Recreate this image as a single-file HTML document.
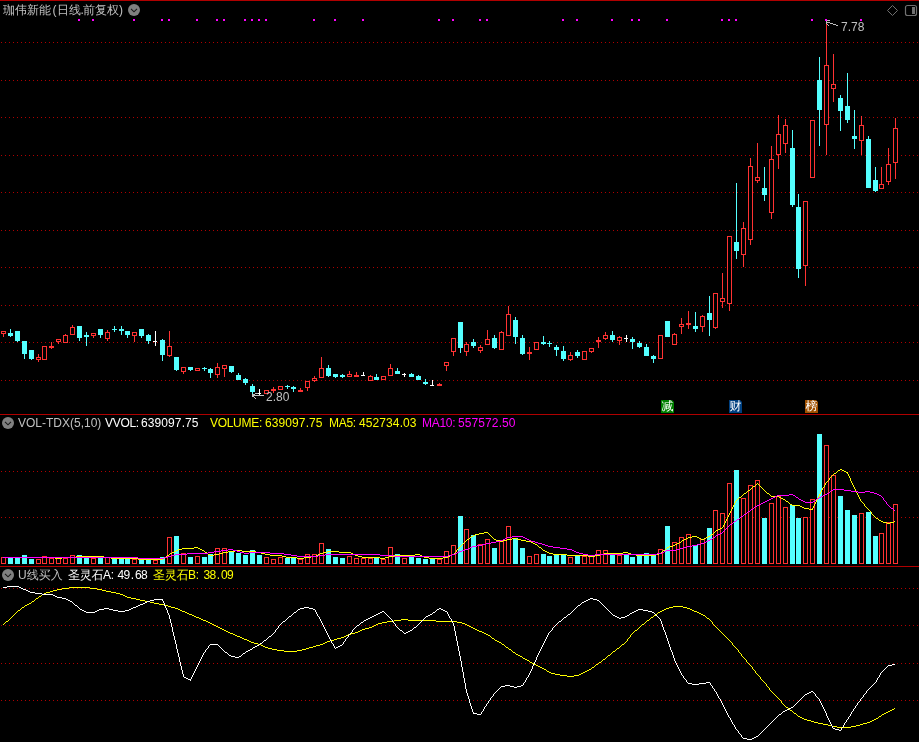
<!DOCTYPE html>
<html lang="zh-CN">
<head>
<meta charset="utf-8">
<title>珈伟新能 (日线.前复权)</title>
<style>
html,body{margin:0;padding:0;background:#000;}
body{width:919px;height:742px;overflow:hidden;position:relative;font-family:"Liberation Sans","WenQuanYi Zen Hei","Noto Sans CJK SC",sans-serif;font-size:12px;line-height:14px;color:#c0c0c0;}
#chart{position:absolute;left:0;top:0;}
.t{position:absolute;white-space:pre;height:14px;}
.w{color:#fff} .y{color:#ffff00} .m{color:#ff00ff} .g{color:#c0c0c0}
.tag{position:absolute;top:400px;width:13px;height:13px;color:#fff;font-size:12px;line-height:13px;text-align:center;overflow:hidden;clip-path:polygon(0 0,11px 0,13px 2px,13px 13px,0 13px);}
.ic{position:absolute;}
.s{position:absolute;top:0;white-space:pre;}
.lb{letter-spacing:-0.3px} .nm{letter-spacing:0.1px} .n2{letter-spacing:-0.67px} .n2 i{font-style:normal;letter-spacing:0.8px;padding-left:1.2px;}
</style>
</head>
<body>
<svg id="chart" width="919" height="742" viewBox="0 0 919 742" shape-rendering="crispEdges">
<rect x="0" y="0" width="919" height="1" fill="#b00000"/>
<rect x="0" y="414" width="919" height="1" fill="#b00000"/>
<rect x="0" y="566" width="919" height="1" fill="#b00000"/>
<line x1="1" x2="919" y1="42.5" y2="42.5" stroke="#b00000" stroke-dasharray="1 3"/>
<line x1="1" x2="919" y1="80.5" y2="80.5" stroke="#b00000" stroke-dasharray="1 3"/>
<line x1="1" x2="919" y1="117.5" y2="117.5" stroke="#b00000" stroke-dasharray="1 3"/>
<line x1="1" x2="919" y1="155.5" y2="155.5" stroke="#b00000" stroke-dasharray="1 3"/>
<line x1="1" x2="919" y1="192.5" y2="192.5" stroke="#b00000" stroke-dasharray="1 3"/>
<line x1="1" x2="919" y1="230.5" y2="230.5" stroke="#b00000" stroke-dasharray="1 3"/>
<line x1="1" x2="919" y1="267.5" y2="267.5" stroke="#b00000" stroke-dasharray="1 3"/>
<line x1="1" x2="919" y1="305.5" y2="305.5" stroke="#b00000" stroke-dasharray="1 3"/>
<line x1="1" x2="919" y1="342.5" y2="342.5" stroke="#b00000" stroke-dasharray="1 3"/>
<line x1="1" x2="919" y1="380.5" y2="380.5" stroke="#b00000" stroke-dasharray="1 3"/>
<line x1="1" x2="919" y1="471.5" y2="471.5" stroke="#b00000" stroke-dasharray="1 3"/>
<line x1="1" x2="919" y1="517.5" y2="517.5" stroke="#b00000" stroke-dasharray="1 3"/>
<line x1="1" x2="919" y1="588.5" y2="588.5" stroke="#b00000" stroke-dasharray="1 3"/>
<line x1="1" x2="919" y1="625.5" y2="625.5" stroke="#b00000" stroke-dasharray="1 3"/>
<line x1="1" x2="919" y1="663.5" y2="663.5" stroke="#b00000" stroke-dasharray="1 3"/>
<line x1="1" x2="919" y1="700.5" y2="700.5" stroke="#b00000" stroke-dasharray="1 3"/>
<rect x="78" y="19" width="2" height="2" fill="#ff00ff"/>
<rect x="92" y="19" width="2" height="2" fill="#ff00ff"/>
<rect x="133" y="19" width="2" height="2" fill="#ff00ff"/>
<rect x="161" y="19" width="2" height="2" fill="#ff00ff"/>
<rect x="168" y="19" width="2" height="2" fill="#ff00ff"/>
<rect x="196" y="19" width="2" height="2" fill="#ff00ff"/>
<rect x="216" y="19" width="2" height="2" fill="#ff00ff"/>
<rect x="223" y="19" width="2" height="2" fill="#ff00ff"/>
<rect x="244" y="19" width="2" height="2" fill="#ff00ff"/>
<rect x="251" y="19" width="2" height="2" fill="#ff00ff"/>
<rect x="258" y="19" width="2" height="2" fill="#ff00ff"/>
<rect x="265" y="19" width="2" height="2" fill="#ff00ff"/>
<rect x="313" y="19" width="2" height="2" fill="#ff00ff"/>
<rect x="334" y="19" width="2" height="2" fill="#ff00ff"/>
<rect x="362" y="19" width="2" height="2" fill="#ff00ff"/>
<rect x="438" y="19" width="2" height="2" fill="#ff00ff"/>
<rect x="452" y="19" width="2" height="2" fill="#ff00ff"/>
<rect x="479" y="19" width="2" height="2" fill="#ff00ff"/>
<rect x="486" y="19" width="2" height="2" fill="#ff00ff"/>
<rect x="562" y="19" width="2" height="2" fill="#ff00ff"/>
<rect x="576" y="19" width="2" height="2" fill="#ff00ff"/>
<rect x="611" y="19" width="2" height="2" fill="#ff00ff"/>
<rect x="631" y="19" width="2" height="2" fill="#ff00ff"/>
<rect x="638" y="19" width="2" height="2" fill="#ff00ff"/>
<rect x="666" y="19" width="2" height="2" fill="#ff00ff"/>
<rect x="721" y="19" width="2" height="2" fill="#ff00ff"/>
<rect x="728" y="19" width="2" height="2" fill="#ff00ff"/>
<rect x="735" y="19" width="2" height="2" fill="#ff00ff"/>
<rect x="811" y="19" width="2" height="2" fill="#ff00ff"/>
<rect x="825" y="19" width="2" height="2" fill="#ff00ff"/>
<rect x="860" y="19" width="2" height="2" fill="#ff00ff"/>
<rect x="3" y="334" width="1" height="3" fill="#ff3232"/>
<rect x="1.5" y="331.5" width="4" height="2" fill="#000" stroke="#ff3232"/>
<rect x="10" y="329" width="1" height="8" fill="#54ffff"/>
<rect x="8" y="333" width="5" height="3" fill="#54ffff"/>
<rect x="17" y="331" width="1" height="11" fill="#54ffff"/>
<rect x="15" y="331" width="5" height="10" fill="#54ffff"/>
<rect x="24" y="341" width="1" height="18" fill="#54ffff"/>
<rect x="22" y="341" width="5" height="13" fill="#54ffff"/>
<rect x="31" y="350" width="1" height="10" fill="#54ffff"/>
<rect x="29" y="350" width="5" height="9" fill="#54ffff"/>
<rect x="38" y="354" width="1" height="3" fill="#ff3232"/>
<rect x="38" y="360" width="1" height="2" fill="#ff3232"/>
<rect x="36.5" y="357.5" width="4" height="2" fill="#000" stroke="#ff3232"/>
<rect x="42.5" y="346.5" width="4" height="13" fill="#000" stroke="#ff3232"/>
<rect x="51" y="342" width="1" height="7" fill="#ff3232"/>
<rect x="49" y="346" width="5" height="2" fill="#ff3232"/>
<rect x="58" y="342" width="1" height="2" fill="#ff3232"/>
<rect x="56.5" y="339.5" width="4" height="2" fill="#000" stroke="#ff3232"/>
<rect x="65" y="334" width="1" height="1" fill="#ff3232"/>
<rect x="63.5" y="335.5" width="4" height="7" fill="#000" stroke="#ff3232"/>
<rect x="72" y="325" width="1" height="2" fill="#ff3232"/>
<rect x="70.5" y="327.5" width="4" height="7" fill="#000" stroke="#ff3232"/>
<rect x="79" y="326" width="1" height="15" fill="#54ffff"/>
<rect x="77" y="326" width="5" height="12" fill="#54ffff"/>
<rect x="86" y="332" width="1" height="14" fill="#54ffff"/>
<rect x="84" y="335" width="5" height="2" fill="#54ffff"/>
<rect x="93" y="336" width="1" height="2" fill="#ff3232"/>
<rect x="91.5" y="333.5" width="4" height="2" fill="#000" stroke="#ff3232"/>
<rect x="100" y="329" width="1" height="9" fill="#54ffff"/>
<rect x="98" y="329" width="5" height="6" fill="#54ffff"/>
<rect x="107" y="330" width="1" height="2" fill="#ff3232"/>
<rect x="107" y="339" width="1" height="2" fill="#ff3232"/>
<rect x="105.5" y="332.5" width="4" height="6" fill="#000" stroke="#ff3232"/>
<rect x="114" y="326" width="1" height="6" fill="#54ffff"/>
<rect x="112" y="329" width="5" height="1" fill="#54ffff"/>
<rect x="121" y="326" width="1" height="9" fill="#54ffff"/>
<rect x="119" y="329" width="5" height="2" fill="#54ffff"/>
<rect x="127" y="331" width="1" height="7" fill="#54ffff"/>
<rect x="125" y="331" width="5" height="4" fill="#54ffff"/>
<rect x="134" y="336" width="1" height="6" fill="#ff3232"/>
<rect x="132.5" y="332.5" width="4" height="3" fill="#000" stroke="#ff3232"/>
<rect x="141" y="329" width="1" height="9" fill="#54ffff"/>
<rect x="139" y="329" width="5" height="7" fill="#54ffff"/>
<rect x="148" y="334" width="1" height="10" fill="#54ffff"/>
<rect x="146" y="335" width="5" height="6" fill="#54ffff"/>
<rect x="155" y="331" width="1" height="15" fill="#fff"/>
<rect x="153" y="341" width="4" height="1" fill="#fff"/>
<rect x="162" y="339" width="1" height="22" fill="#54ffff"/>
<rect x="160" y="340" width="5" height="15" fill="#54ffff"/>
<rect x="169" y="331" width="1" height="15" fill="#ff3232"/>
<rect x="169" y="356" width="1" height="1" fill="#ff3232"/>
<rect x="167.5" y="346.5" width="4" height="9" fill="#000" stroke="#ff3232"/>
<rect x="176" y="357" width="1" height="14" fill="#54ffff"/>
<rect x="174" y="357" width="5" height="13" fill="#54ffff"/>
<rect x="183" y="372" width="1" height="2" fill="#ff3232"/>
<rect x="181.5" y="367.5" width="4" height="4" fill="#000" stroke="#ff3232"/>
<rect x="190" y="367" width="1" height="4" fill="#54ffff"/>
<rect x="188" y="367" width="5" height="3" fill="#54ffff"/>
<rect x="195.5" y="368.5" width="4" height="2" fill="#000" stroke="#ff3232"/>
<rect x="204" y="367" width="1" height="4" fill="#54ffff"/>
<rect x="202" y="368" width="5" height="1" fill="#54ffff"/>
<rect x="210" y="368" width="1" height="10" fill="#54ffff"/>
<rect x="208" y="369" width="5" height="4" fill="#54ffff"/>
<rect x="217" y="363" width="1" height="4" fill="#ff3232"/>
<rect x="217" y="375" width="1" height="3" fill="#ff3232"/>
<rect x="215.5" y="367.5" width="4" height="7" fill="#000" stroke="#ff3232"/>
<rect x="224" y="369" width="1" height="8" fill="#ff3232"/>
<rect x="222.5" y="365.5" width="4" height="3" fill="#000" stroke="#ff3232"/>
<rect x="231" y="366" width="1" height="7" fill="#54ffff"/>
<rect x="229" y="366" width="5" height="6" fill="#54ffff"/>
<rect x="238" y="373" width="1" height="7" fill="#54ffff"/>
<rect x="236" y="375" width="5" height="5" fill="#54ffff"/>
<rect x="245" y="378" width="1" height="7" fill="#54ffff"/>
<rect x="243" y="379" width="5" height="4" fill="#54ffff"/>
<rect x="252" y="384" width="1" height="10" fill="#54ffff"/>
<rect x="250" y="386" width="5" height="6" fill="#54ffff"/>
<rect x="259" y="389" width="1" height="6" fill="#fff"/>
<rect x="257" y="393" width="4" height="1" fill="#fff"/>
<rect x="264.5" y="390.5" width="4" height="3" fill="#000" stroke="#ff3232"/>
<rect x="273" y="387" width="1" height="6" fill="#ff3232"/>
<rect x="271" y="389" width="5" height="2" fill="#ff3232"/>
<rect x="278.5" y="386.5" width="4" height="3" fill="#000" stroke="#ff3232"/>
<rect x="287" y="385" width="1" height="4" fill="#54ffff"/>
<rect x="285" y="386" width="5" height="1" fill="#54ffff"/>
<rect x="293" y="386" width="1" height="6" fill="#54ffff"/>
<rect x="291" y="387" width="5" height="2" fill="#54ffff"/>
<rect x="300" y="388" width="1" height="4" fill="#ff3232"/>
<rect x="298" y="390" width="5" height="2" fill="#ff3232"/>
<rect x="307" y="388" width="1" height="3" fill="#ff3232"/>
<rect x="305.5" y="381.5" width="4" height="6" fill="#000" stroke="#ff3232"/>
<rect x="314" y="376" width="1" height="2" fill="#ff3232"/>
<rect x="314" y="381" width="1" height="1" fill="#ff3232"/>
<rect x="312.5" y="378.5" width="4" height="2" fill="#000" stroke="#ff3232"/>
<rect x="321" y="357" width="1" height="11" fill="#ff3232"/>
<rect x="319.5" y="368.5" width="4" height="9" fill="#000" stroke="#ff3232"/>
<rect x="328" y="365" width="1" height="12" fill="#54ffff"/>
<rect x="326" y="368" width="5" height="8" fill="#54ffff"/>
<rect x="335" y="374" width="1" height="4" fill="#54ffff"/>
<rect x="333" y="374" width="5" height="3" fill="#54ffff"/>
<rect x="342" y="374" width="1" height="4" fill="#54ffff"/>
<rect x="340" y="375" width="5" height="2" fill="#54ffff"/>
<rect x="349" y="371" width="1" height="3" fill="#ff3232"/>
<rect x="347.5" y="374.5" width="4" height="2" fill="#000" stroke="#ff3232"/>
<rect x="356" y="372" width="1" height="5" fill="#ff3232"/>
<rect x="354" y="375" width="5" height="2" fill="#ff3232"/>
<rect x="363" y="372" width="1" height="4" fill="#fff"/>
<rect x="361" y="375" width="4" height="1" fill="#fff"/>
<rect x="370" y="375" width="1" height="1" fill="#ff3232"/>
<rect x="368.5" y="376.5" width="4" height="4" fill="#000" stroke="#ff3232"/>
<rect x="376" y="374" width="1" height="6" fill="#54ffff"/>
<rect x="374" y="377" width="5" height="3" fill="#54ffff"/>
<rect x="381.5" y="376.5" width="4" height="3" fill="#000" stroke="#ff3232"/>
<rect x="390" y="364" width="1" height="4" fill="#ff3232"/>
<rect x="388.5" y="368.5" width="4" height="7" fill="#000" stroke="#ff3232"/>
<rect x="397" y="368" width="1" height="6" fill="#54ffff"/>
<rect x="395" y="371" width="5" height="3" fill="#54ffff"/>
<rect x="404" y="373" width="1" height="4" fill="#fff"/>
<rect x="402" y="374" width="4" height="1" fill="#fff"/>
<rect x="411" y="373" width="1" height="4" fill="#54ffff"/>
<rect x="409" y="374" width="5" height="3" fill="#54ffff"/>
<rect x="418" y="375" width="1" height="5" fill="#54ffff"/>
<rect x="416" y="376" width="5" height="4" fill="#54ffff"/>
<rect x="425" y="379" width="1" height="6" fill="#54ffff"/>
<rect x="423" y="382" width="5" height="2" fill="#54ffff"/>
<rect x="432" y="380" width="1" height="6" fill="#fff"/>
<rect x="430" y="385" width="4" height="1" fill="#fff"/>
<rect x="439" y="383" width="1" height="3" fill="#ff3232"/>
<rect x="437" y="384" width="5" height="2" fill="#ff3232"/>
<rect x="446" y="366" width="1" height="5" fill="#ff3232"/>
<rect x="444.5" y="362.5" width="4" height="3" fill="#000" stroke="#ff3232"/>
<rect x="453" y="352" width="1" height="4" fill="#ff3232"/>
<rect x="451.5" y="338.5" width="4" height="13" fill="#000" stroke="#ff3232"/>
<rect x="460" y="322" width="1" height="31" fill="#54ffff"/>
<rect x="458" y="322" width="5" height="26" fill="#54ffff"/>
<rect x="466" y="342" width="1" height="2" fill="#ff3232"/>
<rect x="466" y="352" width="1" height="4" fill="#ff3232"/>
<rect x="464.5" y="344.5" width="4" height="7" fill="#000" stroke="#ff3232"/>
<rect x="473" y="339" width="1" height="9" fill="#54ffff"/>
<rect x="471" y="342" width="5" height="4" fill="#54ffff"/>
<rect x="480" y="345" width="1" height="2" fill="#ff3232"/>
<rect x="480" y="351" width="1" height="2" fill="#ff3232"/>
<rect x="478.5" y="347.5" width="4" height="3" fill="#000" stroke="#ff3232"/>
<rect x="487" y="330" width="1" height="9" fill="#ff3232"/>
<rect x="485.5" y="339.5" width="4" height="5" fill="#000" stroke="#ff3232"/>
<rect x="494" y="335" width="1" height="14" fill="#54ffff"/>
<rect x="492" y="338" width="5" height="10" fill="#54ffff"/>
<rect x="501" y="331" width="1" height="1" fill="#ff3232"/>
<rect x="499.5" y="332.5" width="4" height="17" fill="#000" stroke="#ff3232"/>
<rect x="508" y="306" width="1" height="8" fill="#ff3232"/>
<rect x="506.5" y="314.5" width="4" height="21" fill="#000" stroke="#ff3232"/>
<rect x="515" y="317" width="1" height="27" fill="#54ffff"/>
<rect x="513" y="320" width="5" height="17" fill="#54ffff"/>
<rect x="522" y="335" width="1" height="20" fill="#54ffff"/>
<rect x="520" y="338" width="5" height="16" fill="#54ffff"/>
<rect x="529" y="347" width="1" height="13" fill="#ff3232"/>
<rect x="527" y="352" width="5" height="2" fill="#ff3232"/>
<rect x="534.5" y="342.5" width="4" height="7" fill="#000" stroke="#ff3232"/>
<rect x="543" y="336" width="1" height="9" fill="#54ffff"/>
<rect x="541" y="342" width="5" height="2" fill="#54ffff"/>
<rect x="549" y="341" width="1" height="6" fill="#54ffff"/>
<rect x="547" y="343" width="5" height="1" fill="#54ffff"/>
<rect x="556" y="345" width="1" height="11" fill="#54ffff"/>
<rect x="554" y="347" width="5" height="3" fill="#54ffff"/>
<rect x="563" y="346" width="1" height="15" fill="#54ffff"/>
<rect x="561" y="351" width="5" height="8" fill="#54ffff"/>
<rect x="570" y="352" width="1" height="3" fill="#ff3232"/>
<rect x="570" y="360" width="1" height="1" fill="#ff3232"/>
<rect x="568.5" y="355.5" width="4" height="4" fill="#000" stroke="#ff3232"/>
<rect x="577" y="350" width="1" height="8" fill="#54ffff"/>
<rect x="575" y="352" width="5" height="4" fill="#54ffff"/>
<rect x="582.5" y="351.5" width="4" height="8" fill="#000" stroke="#ff3232"/>
<rect x="591" y="352" width="1" height="1" fill="#ff3232"/>
<rect x="589.5" y="348.5" width="4" height="3" fill="#000" stroke="#ff3232"/>
<rect x="598" y="337" width="1" height="11" fill="#ff3232"/>
<rect x="596" y="340" width="5" height="2" fill="#ff3232"/>
<rect x="605" y="332" width="1" height="3" fill="#ff3232"/>
<rect x="605" y="339" width="1" height="1" fill="#ff3232"/>
<rect x="603.5" y="335.5" width="4" height="3" fill="#000" stroke="#ff3232"/>
<rect x="612" y="331" width="1" height="11" fill="#54ffff"/>
<rect x="610" y="335" width="5" height="5" fill="#54ffff"/>
<rect x="619" y="336" width="1" height="1" fill="#ff3232"/>
<rect x="619" y="341" width="1" height="4" fill="#ff3232"/>
<rect x="617.5" y="337.5" width="4" height="3" fill="#000" stroke="#ff3232"/>
<rect x="626" y="335" width="1" height="7" fill="#fff"/>
<rect x="624" y="338" width="4" height="1" fill="#fff"/>
<rect x="632" y="337" width="1" height="12" fill="#54ffff"/>
<rect x="630" y="339" width="5" height="3" fill="#54ffff"/>
<rect x="639" y="341" width="1" height="7" fill="#54ffff"/>
<rect x="637" y="343" width="5" height="4" fill="#54ffff"/>
<rect x="646" y="344" width="1" height="12" fill="#54ffff"/>
<rect x="644" y="347" width="5" height="9" fill="#54ffff"/>
<rect x="653" y="355" width="1" height="8" fill="#54ffff"/>
<rect x="651" y="356" width="5" height="3" fill="#54ffff"/>
<rect x="658.5" y="335.5" width="4" height="23" fill="#000" stroke="#ff3232"/>
<rect x="667" y="321" width="1" height="16" fill="#54ffff"/>
<rect x="665" y="321" width="5" height="16" fill="#54ffff"/>
<rect x="674" y="333" width="1" height="1" fill="#ff3232"/>
<rect x="672.5" y="334.5" width="4" height="10" fill="#000" stroke="#ff3232"/>
<rect x="681" y="318" width="1" height="6" fill="#ff3232"/>
<rect x="681" y="327" width="1" height="7" fill="#ff3232"/>
<rect x="679.5" y="324.5" width="4" height="2" fill="#000" stroke="#ff3232"/>
<rect x="688" y="311" width="1" height="18" fill="#ff3232"/>
<rect x="686" y="323" width="5" height="2" fill="#ff3232"/>
<rect x="695" y="312" width="1" height="20" fill="#54ffff"/>
<rect x="693" y="326" width="5" height="3" fill="#54ffff"/>
<rect x="702" y="315" width="1" height="1" fill="#ff3232"/>
<rect x="702" y="327" width="1" height="5" fill="#ff3232"/>
<rect x="700.5" y="316.5" width="4" height="10" fill="#000" stroke="#ff3232"/>
<rect x="709" y="296" width="1" height="40" fill="#54ffff"/>
<rect x="707" y="313" width="5" height="7" fill="#54ffff"/>
<rect x="715" y="328" width="1" height="1" fill="#ff3232"/>
<rect x="713.5" y="293.5" width="4" height="34" fill="#000" stroke="#ff3232"/>
<rect x="722" y="273" width="1" height="25" fill="#ff3232"/>
<rect x="722" y="302" width="1" height="6" fill="#ff3232"/>
<rect x="720.5" y="298.5" width="4" height="3" fill="#000" stroke="#ff3232"/>
<rect x="729" y="304" width="1" height="7" fill="#ff3232"/>
<rect x="727.5" y="236.5" width="4" height="67" fill="#000" stroke="#ff3232"/>
<rect x="736" y="183" width="1" height="76" fill="#54ffff"/>
<rect x="734" y="242" width="5" height="9" fill="#54ffff"/>
<rect x="743" y="222" width="1" height="6" fill="#ff3232"/>
<rect x="743" y="255" width="1" height="12" fill="#ff3232"/>
<rect x="741.5" y="228.5" width="4" height="26" fill="#000" stroke="#ff3232"/>
<rect x="750" y="158" width="1" height="8" fill="#ff3232"/>
<rect x="750" y="240" width="1" height="5" fill="#ff3232"/>
<rect x="748.5" y="166.5" width="4" height="73" fill="#000" stroke="#ff3232"/>
<rect x="757" y="143" width="1" height="34" fill="#ff3232"/>
<rect x="757" y="181" width="1" height="2" fill="#ff3232"/>
<rect x="755.5" y="177.5" width="4" height="3" fill="#000" stroke="#ff3232"/>
<rect x="764" y="167" width="1" height="34" fill="#54ffff"/>
<rect x="762" y="188" width="5" height="7" fill="#54ffff"/>
<rect x="771" y="146" width="1" height="13" fill="#ff3232"/>
<rect x="771" y="213" width="1" height="6" fill="#ff3232"/>
<rect x="769.5" y="159.5" width="4" height="53" fill="#000" stroke="#ff3232"/>
<rect x="778" y="115" width="1" height="19" fill="#ff3232"/>
<rect x="778" y="155" width="1" height="14" fill="#ff3232"/>
<rect x="776.5" y="134.5" width="4" height="20" fill="#000" stroke="#ff3232"/>
<rect x="785" y="119" width="1" height="6" fill="#ff3232"/>
<rect x="785" y="144" width="1" height="9" fill="#ff3232"/>
<rect x="783.5" y="125.5" width="4" height="18" fill="#000" stroke="#ff3232"/>
<rect x="792" y="130" width="1" height="77" fill="#54ffff"/>
<rect x="790" y="148" width="5" height="57" fill="#54ffff"/>
<rect x="798" y="194" width="1" height="84" fill="#54ffff"/>
<rect x="796" y="207" width="5" height="62" fill="#54ffff"/>
<rect x="805" y="266" width="1" height="20" fill="#ff3232"/>
<rect x="803.5" y="201.5" width="4" height="64" fill="#000" stroke="#ff3232"/>
<rect x="810.5" y="120.5" width="4" height="57" fill="#000" stroke="#ff3232"/>
<rect x="819" y="57" width="1" height="89" fill="#54ffff"/>
<rect x="817" y="80" width="5" height="30" fill="#54ffff"/>
<rect x="826" y="21" width="1" height="44" fill="#ff3232"/>
<rect x="826" y="125" width="1" height="30" fill="#ff3232"/>
<rect x="824.5" y="65.5" width="4" height="59" fill="#000" stroke="#ff3232"/>
<rect x="833" y="54" width="1" height="30" fill="#ff3232"/>
<rect x="833" y="89" width="1" height="13" fill="#ff3232"/>
<rect x="831.5" y="84.5" width="4" height="4" fill="#000" stroke="#ff3232"/>
<rect x="840" y="95" width="1" height="36" fill="#54ffff"/>
<rect x="838" y="98" width="5" height="13" fill="#54ffff"/>
<rect x="847" y="73" width="1" height="50" fill="#54ffff"/>
<rect x="845" y="106" width="5" height="14" fill="#54ffff"/>
<rect x="854" y="110" width="1" height="39" fill="#54ffff"/>
<rect x="852" y="136" width="5" height="3" fill="#54ffff"/>
<rect x="861" y="116" width="1" height="9" fill="#ff3232"/>
<rect x="861" y="141" width="1" height="14" fill="#ff3232"/>
<rect x="859.5" y="125.5" width="4" height="15" fill="#000" stroke="#ff3232"/>
<rect x="868" y="136" width="1" height="52" fill="#54ffff"/>
<rect x="866" y="139" width="5" height="49" fill="#54ffff"/>
<rect x="875" y="167" width="1" height="25" fill="#54ffff"/>
<rect x="873" y="180" width="5" height="11" fill="#54ffff"/>
<rect x="881" y="167" width="1" height="17" fill="#ff3232"/>
<rect x="879.5" y="184.5" width="4" height="4" fill="#000" stroke="#ff3232"/>
<rect x="888" y="148" width="1" height="16" fill="#ff3232"/>
<rect x="888" y="182" width="1" height="3" fill="#ff3232"/>
<rect x="886.5" y="164.5" width="4" height="17" fill="#000" stroke="#ff3232"/>
<rect x="895" y="118" width="1" height="10" fill="#ff3232"/>
<rect x="895" y="163" width="1" height="16" fill="#ff3232"/>
<rect x="893.5" y="128.5" width="4" height="34" fill="#000" stroke="#ff3232"/>
<rect x="1.5" y="557.5" width="4" height="6" fill="#000" stroke="#ff3232"/>
<rect x="8" y="558" width="5" height="6" fill="#54ffff"/>
<rect x="15" y="558" width="5" height="6" fill="#54ffff"/>
<rect x="22" y="555" width="5" height="9" fill="#54ffff"/>
<rect x="29" y="559" width="5" height="5" fill="#54ffff"/>
<rect x="36.5" y="559.5" width="4" height="4" fill="#000" stroke="#ff3232"/>
<rect x="42.5" y="556.5" width="4" height="7" fill="#000" stroke="#ff3232"/>
<rect x="49.5" y="558.5" width="4" height="5" fill="#000" stroke="#ff3232"/>
<rect x="56.5" y="558.5" width="4" height="5" fill="#000" stroke="#ff3232"/>
<rect x="63.5" y="558.5" width="4" height="5" fill="#000" stroke="#ff3232"/>
<rect x="70.5" y="555.5" width="4" height="8" fill="#000" stroke="#ff3232"/>
<rect x="77" y="555" width="5" height="9" fill="#54ffff"/>
<rect x="84" y="558" width="5" height="6" fill="#54ffff"/>
<rect x="91.5" y="558.5" width="4" height="5" fill="#000" stroke="#ff3232"/>
<rect x="98" y="558" width="5" height="6" fill="#54ffff"/>
<rect x="105.5" y="557.5" width="4" height="6" fill="#000" stroke="#ff3232"/>
<rect x="112" y="559" width="5" height="5" fill="#54ffff"/>
<rect x="119" y="559" width="5" height="5" fill="#54ffff"/>
<rect x="125" y="559" width="5" height="5" fill="#54ffff"/>
<rect x="132.5" y="559.5" width="4" height="4" fill="#000" stroke="#ff3232"/>
<rect x="139" y="560" width="5" height="4" fill="#54ffff"/>
<rect x="146" y="560" width="5" height="4" fill="#54ffff"/>
<rect x="153.5" y="560.5" width="4" height="3" fill="#000" stroke="#ff3232"/>
<rect x="160" y="557" width="5" height="7" fill="#54ffff"/>
<rect x="167.5" y="537.5" width="4" height="26" fill="#000" stroke="#ff3232"/>
<rect x="174" y="536" width="5" height="28" fill="#54ffff"/>
<rect x="181.5" y="553.5" width="4" height="10" fill="#000" stroke="#ff3232"/>
<rect x="188" y="557" width="5" height="7" fill="#54ffff"/>
<rect x="195.5" y="556.5" width="4" height="7" fill="#000" stroke="#ff3232"/>
<rect x="202" y="557" width="5" height="7" fill="#54ffff"/>
<rect x="208" y="554" width="5" height="10" fill="#54ffff"/>
<rect x="215.5" y="548.5" width="4" height="15" fill="#000" stroke="#ff3232"/>
<rect x="222.5" y="548.5" width="4" height="15" fill="#000" stroke="#ff3232"/>
<rect x="229" y="551" width="5" height="13" fill="#54ffff"/>
<rect x="236" y="553" width="5" height="11" fill="#54ffff"/>
<rect x="243" y="555" width="5" height="9" fill="#54ffff"/>
<rect x="250" y="550" width="5" height="14" fill="#54ffff"/>
<rect x="257" y="555" width="5" height="9" fill="#54ffff"/>
<rect x="264.5" y="557.5" width="4" height="6" fill="#000" stroke="#ff3232"/>
<rect x="271.5" y="559.5" width="4" height="4" fill="#000" stroke="#ff3232"/>
<rect x="278.5" y="557.5" width="4" height="6" fill="#000" stroke="#ff3232"/>
<rect x="285" y="558" width="5" height="6" fill="#54ffff"/>
<rect x="291" y="558" width="5" height="6" fill="#54ffff"/>
<rect x="298.5" y="559.5" width="4" height="4" fill="#000" stroke="#ff3232"/>
<rect x="305.5" y="554.5" width="4" height="9" fill="#000" stroke="#ff3232"/>
<rect x="312.5" y="554.5" width="4" height="9" fill="#000" stroke="#ff3232"/>
<rect x="319.5" y="543.5" width="4" height="20" fill="#000" stroke="#ff3232"/>
<rect x="326" y="549" width="5" height="15" fill="#54ffff"/>
<rect x="333" y="557" width="5" height="7" fill="#54ffff"/>
<rect x="340" y="558" width="5" height="6" fill="#54ffff"/>
<rect x="347.5" y="556.5" width="4" height="7" fill="#000" stroke="#ff3232"/>
<rect x="354.5" y="558.5" width="4" height="5" fill="#000" stroke="#ff3232"/>
<rect x="361.5" y="558.5" width="4" height="5" fill="#000" stroke="#ff3232"/>
<rect x="368.5" y="558.5" width="4" height="5" fill="#000" stroke="#ff3232"/>
<rect x="374" y="558" width="5" height="6" fill="#54ffff"/>
<rect x="381.5" y="559.5" width="4" height="4" fill="#000" stroke="#ff3232"/>
<rect x="388.5" y="547.5" width="4" height="16" fill="#000" stroke="#ff3232"/>
<rect x="395" y="554" width="5" height="10" fill="#54ffff"/>
<rect x="402.5" y="558.5" width="4" height="5" fill="#000" stroke="#ff3232"/>
<rect x="409" y="557" width="5" height="7" fill="#54ffff"/>
<rect x="416" y="558" width="5" height="6" fill="#54ffff"/>
<rect x="423" y="559" width="5" height="5" fill="#54ffff"/>
<rect x="430" y="559" width="5" height="5" fill="#54ffff"/>
<rect x="437.5" y="559.5" width="4" height="4" fill="#000" stroke="#ff3232"/>
<rect x="444.5" y="551.5" width="4" height="12" fill="#000" stroke="#ff3232"/>
<rect x="451.5" y="545.5" width="4" height="18" fill="#000" stroke="#ff3232"/>
<rect x="458" y="516" width="5" height="48" fill="#54ffff"/>
<rect x="464.5" y="529.5" width="4" height="34" fill="#000" stroke="#ff3232"/>
<rect x="471" y="535" width="5" height="29" fill="#54ffff"/>
<rect x="478.5" y="544.5" width="4" height="19" fill="#000" stroke="#ff3232"/>
<rect x="485.5" y="539.5" width="4" height="24" fill="#000" stroke="#ff3232"/>
<rect x="492" y="548" width="5" height="16" fill="#54ffff"/>
<rect x="499.5" y="541.5" width="4" height="22" fill="#000" stroke="#ff3232"/>
<rect x="506.5" y="526.5" width="4" height="37" fill="#000" stroke="#ff3232"/>
<rect x="513" y="538" width="5" height="26" fill="#54ffff"/>
<rect x="520" y="548" width="5" height="16" fill="#54ffff"/>
<rect x="527.5" y="556.5" width="4" height="7" fill="#000" stroke="#ff3232"/>
<rect x="534.5" y="554.5" width="4" height="9" fill="#000" stroke="#ff3232"/>
<rect x="541" y="554" width="5" height="10" fill="#54ffff"/>
<rect x="547" y="556" width="5" height="8" fill="#54ffff"/>
<rect x="554" y="554" width="5" height="10" fill="#54ffff"/>
<rect x="561" y="555" width="5" height="9" fill="#54ffff"/>
<rect x="568.5" y="557.5" width="4" height="6" fill="#000" stroke="#ff3232"/>
<rect x="575" y="556" width="5" height="8" fill="#54ffff"/>
<rect x="582.5" y="556.5" width="4" height="7" fill="#000" stroke="#ff3232"/>
<rect x="589.5" y="556.5" width="4" height="7" fill="#000" stroke="#ff3232"/>
<rect x="596.5" y="550.5" width="4" height="13" fill="#000" stroke="#ff3232"/>
<rect x="603.5" y="550.5" width="4" height="13" fill="#000" stroke="#ff3232"/>
<rect x="610" y="554" width="5" height="10" fill="#54ffff"/>
<rect x="617.5" y="555.5" width="4" height="8" fill="#000" stroke="#ff3232"/>
<rect x="624" y="555" width="5" height="9" fill="#54ffff"/>
<rect x="630" y="557" width="5" height="7" fill="#54ffff"/>
<rect x="637" y="555" width="5" height="9" fill="#54ffff"/>
<rect x="644" y="553" width="5" height="11" fill="#54ffff"/>
<rect x="651" y="555" width="5" height="9" fill="#54ffff"/>
<rect x="658.5" y="549.5" width="4" height="14" fill="#000" stroke="#ff3232"/>
<rect x="665" y="526" width="5" height="38" fill="#54ffff"/>
<rect x="672.5" y="542.5" width="4" height="21" fill="#000" stroke="#ff3232"/>
<rect x="679.5" y="537.5" width="4" height="26" fill="#000" stroke="#ff3232"/>
<rect x="686.5" y="534.5" width="4" height="29" fill="#000" stroke="#ff3232"/>
<rect x="693" y="545" width="5" height="19" fill="#54ffff"/>
<rect x="700.5" y="539.5" width="4" height="24" fill="#000" stroke="#ff3232"/>
<rect x="707" y="528" width="5" height="36" fill="#54ffff"/>
<rect x="713.5" y="510.5" width="4" height="53" fill="#000" stroke="#ff3232"/>
<rect x="720.5" y="513.5" width="4" height="50" fill="#000" stroke="#ff3232"/>
<rect x="727.5" y="483.5" width="4" height="80" fill="#000" stroke="#ff3232"/>
<rect x="734" y="470" width="5" height="94" fill="#54ffff"/>
<rect x="741.5" y="498.5" width="4" height="65" fill="#000" stroke="#ff3232"/>
<rect x="748.5" y="485.5" width="4" height="78" fill="#000" stroke="#ff3232"/>
<rect x="755.5" y="480.5" width="4" height="83" fill="#000" stroke="#ff3232"/>
<rect x="762" y="518" width="5" height="46" fill="#54ffff"/>
<rect x="769.5" y="503.5" width="4" height="60" fill="#000" stroke="#ff3232"/>
<rect x="776.5" y="496.5" width="4" height="67" fill="#000" stroke="#ff3232"/>
<rect x="783.5" y="507.5" width="4" height="56" fill="#000" stroke="#ff3232"/>
<rect x="790" y="505" width="5" height="59" fill="#54ffff"/>
<rect x="796" y="518" width="5" height="46" fill="#54ffff"/>
<rect x="803.5" y="517.5" width="4" height="46" fill="#000" stroke="#ff3232"/>
<rect x="810.5" y="499.5" width="4" height="64" fill="#000" stroke="#ff3232"/>
<rect x="817" y="434" width="5" height="130" fill="#54ffff"/>
<rect x="824.5" y="445.5" width="4" height="118" fill="#000" stroke="#ff3232"/>
<rect x="831.5" y="475.5" width="4" height="88" fill="#000" stroke="#ff3232"/>
<rect x="838" y="496" width="5" height="68" fill="#54ffff"/>
<rect x="845" y="510" width="5" height="54" fill="#54ffff"/>
<rect x="852" y="515" width="5" height="49" fill="#54ffff"/>
<rect x="859.5" y="513.5" width="4" height="50" fill="#000" stroke="#ff3232"/>
<rect x="866" y="512" width="5" height="52" fill="#54ffff"/>
<rect x="873" y="536" width="5" height="28" fill="#54ffff"/>
<rect x="879.5" y="533.5" width="4" height="30" fill="#000" stroke="#ff3232"/>
<rect x="886.5" y="522.5" width="4" height="41" fill="#000" stroke="#ff3232"/>
<rect x="893.5" y="504.5" width="4" height="59" fill="#000" stroke="#ff3232"/>
<path d="M3 557h52v1h-52zM55 558h7v1h-7zM62 557h14v1h-14zM76 556h28v1h-28zM104 557h7v1h-7zM111 558h27v1h-27zM138 559h25v1h-25zM163 558h2v1h-2zM165 557h1v1h-1zM166 556h1v1h-1zM167 555h2v1h-2zM169 554h1v1h-1zM170 553h2v1h-2zM172 552h2v1h-2zM174 551h2v1h-2zM176 550h2v1h-2zM178 549h4v1h-4zM182 548h12v1h-12zM194 547h4v1h-4zM198 548h2v1h-2zM200 549h2v1h-2zM202 550h2v1h-2zM204 551h1v1h-1zM205 552h2v1h-2zM207 553h1v1h-1zM208 554h2v1h-2zM210 555h4v1h-4zM214 554h5v1h-5zM219 553h4v1h-4zM223 552h5v1h-5zM228 551h7v1h-7zM235 550h7v1h-7zM242 551h14v1h-14zM256 552h5v1h-5zM261 553h4v1h-4zM265 554h5v1h-5zM270 555h12v1h-12zM282 556h4v1h-4zM286 557h11v1h-11zM297 558h7v1h-7zM304 557h7v1h-7zM311 556h5v1h-5zM316 555h2v1h-2zM318 554h2v1h-2zM320 553h3v1h-3zM323 552h4v1h-4zM327 551h12v1h-12zM339 552h12v1h-12zM351 553h2v1h-2zM353 554h2v1h-2zM355 555h3v1h-3zM358 556h4v1h-4zM362 557h18v1h-18zM380 558h5v1h-5zM385 557h4v1h-4zM389 556h5v1h-5zM394 555h21v1h-21zM415 554h5v1h-5zM420 555h2v1h-2zM422 556h2v1h-2zM424 557h5v1h-5zM429 558h14v1h-14zM443 557h5v1h-5zM448 556h2v1h-2zM450 555h2v1h-2zM452 554h2v1h-2zM454 553h1v1h-1zM455 552h1v1h-1zM456 550h1v2h-1zM457 549h1v1h-1zM458 548h1v1h-1zM459 547h1v1h-1zM460 546h1v1h-1zM461 545h1v1h-1zM462 544h1v1h-1zM463 543h1v1h-1zM464 542h1v1h-1zM465 541h1v1h-1zM466 540h1v1h-1zM467 539h2v1h-2zM469 538h1v1h-1zM470 537h1v1h-1zM471 536h2v1h-2zM473 535h2v1h-2zM475 534h4v1h-4zM479 533h5v1h-5zM484 532h4v1h-4zM488 533h1v1h-1zM489 534h1v1h-1zM490 535h1v1h-1zM491 536h1v1h-1zM492 537h1v1h-1zM493 538h1v1h-1zM494 539h2v1h-2zM496 540h4v1h-4zM500 541h3v1h-3zM503 540h4v1h-4zM507 539h5v1h-5zM512 538h5v1h-5zM517 539h4v1h-4zM521 540h5v1h-5zM526 541h5v1h-5zM531 542h2v1h-2zM533 543h2v1h-2zM535 544h2v1h-2zM537 545h1v1h-1zM538 546h1v1h-1zM539 547h2v1h-2zM541 548h1v1h-1zM542 549h1v1h-1zM543 550h2v1h-2zM545 551h2v1h-2zM547 552h2v1h-2zM549 553h4v1h-4zM553 554h14v1h-14zM567 555h21v1h-21zM588 556h7v1h-7zM595 555h5v1h-5zM600 554h4v1h-4zM604 553h19v1h-19zM623 552h5v1h-5zM628 553h3v1h-3zM631 554h5v1h-5zM636 555h19v1h-19zM655 554h4v1h-4zM659 553h2v1h-2zM661 552h1v1h-1zM662 551h1v1h-1zM663 550h2v1h-2zM665 549h1v1h-1zM666 548h1v1h-1zM667 547h2v1h-2zM669 546h4v1h-4zM673 545h2v1h-2zM675 544h2v1h-2zM677 543h2v1h-2zM679 542h2v1h-2zM681 541h1v1h-1zM682 540h2v1h-2zM684 539h2v1h-2zM686 538h2v1h-2zM688 537h4v1h-4zM692 536h5v1h-5zM697 537h2v1h-2zM699 538h2v1h-2zM701 539h3v1h-3zM704 538h2v1h-2zM706 537h2v1h-2zM708 536h2v1h-2zM710 535h1v1h-1zM711 534h2v1h-2zM713 533h1v1h-1zM714 532h1v1h-1zM715 531h1v1h-1zM716 530h2v1h-2zM718 529h2v1h-2zM720 528h2v1h-2zM722 527h1v1h-1zM723 525h1v2h-1zM724 523h1v2h-1zM725 521h1v2h-1zM726 519h1v2h-1zM727 517h1v2h-1zM728 515h1v2h-1zM729 513h1v2h-1zM730 511h1v2h-1zM731 509h1v2h-1zM732 507h1v2h-1zM733 505h1v2h-1zM734 503h1v2h-1zM735 501h1v2h-1zM736 500h1v1h-1zM737 499h1v1h-1zM738 498h1v1h-1zM739 497h2v1h-2zM741 496h1v1h-1zM742 495h1v1h-1zM743 494h1v1h-1zM744 493h2v1h-2zM746 492h1v1h-1zM747 491h1v1h-1zM748 490h2v1h-2zM750 489h1v1h-1zM751 488h1v1h-1zM752 487h1v1h-1zM753 486h2v1h-2zM755 485h1v1h-1zM756 484h1v1h-1zM757 483h1v1h-1zM758 484h1v1h-1zM759 485h1v1h-1zM760 486h1v1h-1zM761 487h1v1h-1zM762 488h1v1h-1zM763 489h1v1h-1zM764 490h1v1h-1zM765 491h1v1h-1zM766 492h1v1h-1zM767 493h2v1h-2zM769 494h1v1h-1zM770 495h1v1h-1zM771 496h8v1h-8zM779 497h2v1h-2zM781 498h2v1h-2zM783 499h2v1h-2zM785 500h1v1h-1zM786 501h2v1h-2zM788 502h1v1h-1zM789 503h1v1h-1zM790 504h2v1h-2zM792 505h8v1h-8zM800 506h2v1h-2zM802 507h2v1h-2zM804 508h5v1h-5zM809 509h3v1h-3zM812 508h1v2h-1zM813 506h1v2h-1zM814 504h1v2h-1zM815 502h1v2h-1zM816 500h1v2h-1zM817 498h1v2h-1zM818 496h1v2h-1zM819 494h1v2h-1zM820 492h1v2h-1zM821 490h1v2h-1zM822 488h1v2h-1zM823 487h1v1h-1zM824 485h1v2h-1zM825 483h1v2h-1zM826 482h1v1h-1zM827 481h1v1h-1zM828 480h1v1h-1zM829 478h1v2h-1zM830 477h1v1h-1zM831 476h1v1h-1zM832 475h1v1h-1zM833 474h1v1h-1zM834 473h2v1h-2zM836 472h1v1h-1zM837 471h1v1h-1zM838 470h2v1h-2zM840 469h2v1h-2zM842 470h2v1h-2zM844 471h2v1h-2zM846 472h1v1h-1zM847 472h1v2h-1zM848 474h1v2h-1zM849 476h1v2h-1zM850 478h1v3h-1zM851 481h1v2h-1zM852 483h1v2h-1zM853 485h1v2h-1zM854 487h1v2h-1zM855 489h1v2h-1zM856 491h1v2h-1zM857 493h1v2h-1zM858 495h1v2h-1zM859 497h1v2h-1zM860 499h1v2h-1zM861 501h1v1h-1zM862 502h1v1h-1zM863 503h1v1h-1zM864 504h1v2h-1zM865 506h1v1h-1zM866 507h1v1h-1zM867 508h1v1h-1zM868 509h1v1h-1zM869 510h1v1h-1zM870 511h1v1h-1zM871 512h1v2h-1zM872 514h1v1h-1zM873 515h1v1h-1zM874 516h1v1h-1zM875 517h1v1h-1zM876 518h2v1h-2zM878 519h1v1h-1zM879 520h2v1h-2zM881 521h2v1h-2zM883 522h4v1h-4zM887 523h3v1h-3zM890 522h4v1h-4zM894 521h1v1h-1z" fill="#ffff00"/>
<path d="M3 557h135v1h-135zM138 558h26v1h-26zM164 557h4v1h-4zM168 556h3v1h-3zM171 555h4v1h-4zM175 554h12v1h-12zM187 553h21v1h-21zM208 552h6v1h-6zM214 551h7v1h-7zM221 550h7v1h-7zM228 549h5v1h-5zM233 550h4v1h-4zM237 551h3v1h-3zM240 552h4v1h-4zM244 553h5v1h-5zM249 552h21v1h-21zM270 553h14v1h-14zM284 554h7v1h-7zM291 555h6v1h-6zM297 556h21v1h-21zM318 555h7v1h-7zM325 554h55v1h-55zM380 555h14v1h-14zM394 556h54v1h-54zM448 555h4v1h-4zM452 554h3v1h-3zM455 553h2v1h-2zM457 552h2v1h-2zM459 551h3v1h-3zM462 550h3v1h-3zM465 549h3v1h-3zM468 548h2v1h-2zM470 547h2v1h-2zM472 546h5v1h-5zM477 545h5v1h-5zM482 544h4v1h-4zM486 543h5v1h-5zM491 542h5v1h-5zM496 541h4v1h-4zM500 540h3v1h-3zM503 539h2v1h-2zM505 538h2v1h-2zM507 537h5v1h-5zM512 536h11v1h-11zM523 537h2v1h-2zM525 538h2v1h-2zM527 539h2v1h-2zM529 540h2v1h-2zM531 541h4v1h-4zM535 542h3v1h-3zM538 543h4v1h-4zM542 544h3v1h-3zM545 545h3v1h-3zM548 546h5v1h-5zM553 547h7v1h-7zM560 548h7v1h-7zM567 549h5v1h-5zM572 550h2v1h-2zM574 551h2v1h-2zM576 552h3v1h-3zM579 553h4v1h-4zM583 554h5v1h-5zM588 555h7v1h-7zM595 554h62v1h-62zM657 553h5v1h-5zM662 552h2v1h-2zM664 551h2v1h-2zM666 550h10v1h-10zM676 549h4v1h-4zM680 548h3v1h-3zM683 547h4v1h-4zM687 546h5v1h-5zM692 545h5v1h-5zM697 544h4v1h-4zM701 543h3v1h-3zM704 542h2v1h-2zM706 541h2v1h-2zM708 540h2v1h-2zM710 539h2v1h-2zM712 538h1v1h-1zM713 537h2v1h-2zM715 536h1v1h-1zM716 535h2v1h-2zM718 534h2v1h-2zM720 533h2v1h-2zM722 532h1v1h-1zM723 531h1v1h-1zM724 530h1v1h-1zM725 529h1v1h-1zM726 528h1v1h-1zM727 527h1v1h-1zM728 526h1v1h-1zM729 525h1v1h-1zM730 524h2v1h-2zM732 523h1v1h-1zM733 522h1v1h-1zM734 521h2v1h-2zM736 520h1v1h-1zM737 519h2v1h-2zM739 518h1v1h-1zM740 517h1v1h-1zM741 516h2v1h-2zM743 515h1v1h-1zM744 514h2v1h-2zM746 513h1v1h-1zM747 512h1v1h-1zM748 511h2v1h-2zM750 510h1v1h-1zM751 509h2v1h-2zM753 508h1v1h-1zM754 507h1v1h-1zM755 506h2v1h-2zM757 505h2v1h-2zM759 504h2v1h-2zM761 503h2v1h-2zM763 502h2v1h-2zM765 501h2v1h-2zM767 500h2v1h-2zM769 499h2v1h-2zM771 498h2v1h-2zM773 497h2v1h-2zM775 496h2v1h-2zM777 495h12v1h-12zM789 494h4v1h-4zM793 495h2v1h-2zM795 496h1v1h-1zM796 497h2v1h-2zM798 498h1v1h-1zM799 499h2v1h-2zM801 500h2v1h-2zM803 501h2v1h-2zM805 502h8v1h-8zM813 501h2v1h-2zM815 500h1v1h-1zM816 499h1v1h-1zM817 498h2v1h-2zM819 497h2v1h-2zM821 496h2v1h-2zM823 495h2v1h-2zM825 494h2v1h-2zM827 493h2v1h-2zM829 492h1v1h-1zM830 491h1v1h-1zM831 490h2v1h-2zM833 489h11v1h-11zM844 490h7v1h-7zM851 491h7v1h-7zM858 492h7v1h-7zM865 491h5v1h-5zM870 492h4v1h-4zM874 493h3v1h-3zM877 494h2v1h-2zM879 495h2v1h-2zM881 496h1v1h-1zM882 497h1v1h-1zM883 498h1v2h-1zM884 500h1v1h-1zM885 501h1v1h-1zM886 502h1v2h-1zM887 504h1v1h-1zM888 505h1v1h-1zM889 506h1v1h-1zM890 507h1v1h-1zM891 508h2v1h-2zM893 509h1v1h-1zM894 510h1v1h-1z" fill="#ff00ff"/>
<path d="M3 624h1v1h-1zM4 623h1v1h-1zM5 622h1v1h-1zM6 621h2v1h-2zM8 620h1v1h-1zM9 619h1v1h-1zM10 618h1v1h-1zM11 617h1v1h-1zM12 616h1v1h-1zM13 615h1v1h-1zM14 614h1v1h-1zM15 613h1v1h-1zM16 612h1v1h-1zM17 611h1v1h-1zM18 610h2v1h-2zM20 609h1v1h-1zM21 608h1v1h-1zM22 607h2v1h-2zM24 606h1v1h-1zM25 605h2v1h-2zM27 604h2v1h-2zM29 603h2v1h-2zM31 602h1v1h-1zM32 601h2v1h-2zM34 600h1v1h-1zM35 599h1v1h-1zM36 598h2v1h-2zM38 597h1v1h-1zM39 596h2v1h-2zM41 595h1v1h-1zM42 594h2v1h-2zM44 593h2v1h-2zM46 592h4v1h-4zM50 591h3v1h-3zM53 590h4v1h-4zM57 589h5v1h-5zM62 588h7v1h-7zM69 587h21v1h-21zM90 588h7v1h-7zM97 589h5v1h-5zM102 590h4v1h-4zM106 591h5v1h-5zM111 592h5v1h-5zM116 593h4v1h-4zM120 594h3v1h-3zM123 595h2v1h-2zM125 596h2v1h-2zM127 597h4v1h-4zM131 598h5v1h-5zM136 599h4v1h-4zM140 600h5v1h-5zM145 601h5v1h-5zM150 602h4v1h-4zM154 603h5v1h-5zM159 604h5v1h-5zM164 605h4v1h-4zM168 606h3v1h-3zM171 607h4v1h-4zM175 608h3v1h-3zM178 609h2v1h-2zM180 610h2v1h-2zM182 611h3v1h-3zM185 612h2v1h-2zM187 613h2v1h-2zM189 614h3v1h-3zM192 615h2v1h-2zM194 616h2v1h-2zM196 617h3v1h-3zM199 618h2v1h-2zM201 619h2v1h-2zM203 620h3v1h-3zM206 621h2v1h-2zM208 622h2v1h-2zM210 623h2v1h-2zM212 624h2v1h-2zM214 625h2v1h-2zM216 626h2v1h-2zM218 627h2v1h-2zM220 628h2v1h-2zM222 629h2v1h-2zM224 630h2v1h-2zM226 631h2v1h-2zM228 632h2v1h-2zM230 633h3v1h-3zM233 634h2v1h-2zM235 635h2v1h-2zM237 636h3v1h-3zM240 637h2v1h-2zM242 638h2v1h-2zM244 639h3v1h-3zM247 640h2v1h-2zM249 641h2v1h-2zM251 642h3v1h-3zM254 643h4v1h-4zM258 644h3v1h-3zM261 645h2v1h-2zM263 646h2v1h-2zM265 647h3v1h-3zM268 648h4v1h-4zM272 649h5v1h-5zM277 650h7v1h-7zM284 651h13v1h-13zM297 650h5v1h-5zM302 649h4v1h-4zM306 648h3v1h-3zM309 647h4v1h-4zM313 646h3v1h-3zM316 645h4v1h-4zM320 644h3v1h-3zM323 643h2v1h-2zM325 642h2v1h-2zM327 641h3v1h-3zM330 640h4v1h-4zM334 639h3v1h-3zM337 638h4v1h-4zM341 637h3v1h-3zM344 636h2v1h-2zM346 635h2v1h-2zM348 634h3v1h-3zM351 633h4v1h-4zM355 632h3v1h-3zM358 631h2v1h-2zM360 630h2v1h-2zM362 629h3v1h-3zM365 628h4v1h-4zM369 627h3v1h-3zM372 626h2v1h-2zM374 625h2v1h-2zM376 624h2v1h-2zM378 623h4v1h-4zM382 622h5v1h-5zM387 621h7v1h-7zM394 620h7v1h-7zM401 619h7v1h-7zM408 620h28v1h-28zM436 621h21v1h-21zM457 622h5v1h-5zM462 623h3v1h-3zM465 624h2v1h-2zM467 625h2v1h-2zM469 626h2v1h-2zM471 627h2v1h-2zM473 628h2v1h-2zM475 629h2v1h-2zM477 630h2v1h-2zM479 631h3v1h-3zM482 632h2v1h-2zM484 633h2v1h-2zM486 634h2v1h-2zM488 635h2v1h-2zM490 636h1v1h-1zM491 637h1v1h-1zM492 638h2v1h-2zM494 639h1v1h-1zM495 640h2v1h-2zM497 641h2v1h-2zM499 642h2v1h-2zM501 643h1v1h-1zM502 644h2v1h-2zM504 645h1v1h-1zM505 646h1v1h-1zM506 647h2v1h-2zM508 648h1v1h-1zM509 649h2v1h-2zM511 650h1v1h-1zM512 651h1v1h-1zM513 652h2v1h-2zM515 653h1v1h-1zM516 654h2v1h-2zM518 655h2v1h-2zM520 656h2v1h-2zM522 657h1v1h-1zM523 658h2v1h-2zM525 659h2v1h-2zM527 660h2v1h-2zM529 661h1v1h-1zM530 662h2v1h-2zM532 663h2v1h-2zM534 664h2v1h-2zM536 665h2v1h-2zM538 666h2v1h-2zM540 667h2v1h-2zM542 668h2v1h-2zM544 669h2v1h-2zM546 670h1v1h-1zM547 671h2v1h-2zM549 672h2v1h-2zM551 673h4v1h-4zM555 674h5v1h-5zM560 675h7v1h-7zM567 676h7v1h-7zM574 675h5v1h-5zM579 674h2v1h-2zM581 673h2v1h-2zM583 672h2v1h-2zM585 671h2v1h-2zM587 670h2v1h-2zM589 669h2v1h-2zM591 668h1v1h-1zM592 667h2v1h-2zM594 666h1v1h-1zM595 665h1v1h-1zM596 664h2v1h-2zM598 663h1v1h-1zM599 662h2v1h-2zM601 661h1v1h-1zM602 660h1v1h-1zM603 659h2v1h-2zM605 658h1v1h-1zM606 657h1v1h-1zM607 656h1v1h-1zM608 655h2v1h-2zM610 654h1v1h-1zM611 653h1v1h-1zM612 652h1v1h-1zM613 651h2v1h-2zM615 650h1v1h-1zM616 649h1v1h-1zM617 648h2v1h-2zM619 647h1v1h-1zM620 646h1v1h-1zM621 645h1v1h-1zM622 644h2v1h-2zM624 643h1v1h-1zM625 642h1v1h-1zM626 641h1v1h-1zM627 639h1v2h-1zM628 638h1v1h-1zM629 637h1v1h-1zM630 635h1v2h-1zM631 634h1v1h-1zM632 633h1v1h-1zM633 632h1v1h-1zM634 631h1v1h-1zM635 630h2v1h-2zM637 629h1v1h-1zM638 628h1v1h-1zM639 627h1v1h-1zM640 626h1v1h-1zM641 625h1v1h-1zM642 624h2v1h-2zM644 623h1v1h-1zM645 622h1v1h-1zM646 621h1v1h-1zM647 620h2v1h-2zM649 619h1v1h-1zM650 618h1v1h-1zM651 617h2v1h-2zM653 616h1v1h-1zM654 615h2v1h-2zM656 614h1v1h-1zM657 613h1v1h-1zM658 612h2v1h-2zM660 611h2v1h-2zM662 610h2v1h-2zM664 609h2v1h-2zM666 608h3v1h-3zM669 607h4v1h-4zM673 606h10v1h-10zM683 607h4v1h-4zM687 608h3v1h-3zM690 609h2v1h-2zM692 610h2v1h-2zM694 611h3v1h-3zM697 612h2v1h-2zM699 613h2v1h-2zM701 614h2v1h-2zM703 615h2v1h-2zM705 616h1v1h-1zM706 617h1v1h-1zM707 618h2v1h-2zM709 619h1v1h-1zM710 620h1v1h-1zM711 621h1v1h-1zM712 622h1v2h-1zM713 624h1v1h-1zM714 625h1v1h-1zM715 626h1v1h-1zM716 627h1v1h-1zM717 628h1v1h-1zM718 629h1v1h-1zM719 630h1v1h-1zM720 631h1v1h-1zM721 632h1v1h-1zM722 633h1v1h-1zM723 634h1v1h-1zM724 635h1v1h-1zM725 636h1v1h-1zM726 637h1v1h-1zM727 638h1v1h-1zM728 639h1v1h-1zM729 640h1v1h-1zM730 641h1v1h-1zM731 642h1v1h-1zM732 643h1v2h-1zM733 645h1v1h-1zM734 646h1v1h-1zM735 647h1v1h-1zM736 648h1v1h-1zM737 649h1v1h-1zM738 650h1v2h-1zM739 652h1v1h-1zM740 653h1v1h-1zM741 654h1v2h-1zM742 656h1v1h-1zM743 657h1v1h-1zM744 658h1v1h-1zM745 659h1v1h-1zM746 660h1v2h-1zM747 662h1v1h-1zM748 663h1v1h-1zM749 664h1v1h-1zM750 665h1v1h-1zM751 666h1v1h-1zM752 667h1v2h-1zM753 669h1v1h-1zM754 670h1v1h-1zM755 671h1v2h-1zM756 673h1v1h-1zM757 674h1v1h-1zM758 675h1v1h-1zM759 676h1v1h-1zM760 677h1v2h-1zM761 679h1v1h-1zM762 680h1v1h-1zM763 681h1v1h-1zM764 682h1v1h-1zM765 683h1v1h-1zM766 684h1v2h-1zM767 686h1v1h-1zM768 687h1v1h-1zM769 688h1v2h-1zM770 690h1v1h-1zM771 691h1v1h-1zM772 692h1v1h-1zM773 693h1v1h-1zM774 694h1v1h-1zM775 695h1v1h-1zM776 696h1v1h-1zM777 697h1v1h-1zM778 698h1v1h-1zM779 699h1v1h-1zM780 700h1v1h-1zM781 701h1v2h-1zM782 703h1v1h-1zM783 704h1v1h-1zM784 705h1v1h-1zM785 706h1v1h-1zM786 707h2v1h-2zM788 708h1v1h-1zM789 709h1v1h-1zM790 710h2v1h-2zM792 711h1v1h-1zM793 712h1v1h-1zM794 713h2v1h-2zM796 714h1v1h-1zM797 715h1v1h-1zM798 716h2v1h-2zM800 717h2v1h-2zM802 718h2v1h-2zM804 719h3v1h-3zM807 720h4v1h-4zM811 721h3v1h-3zM814 722h4v1h-4zM818 723h5v1h-5zM823 724h5v1h-5zM828 725h4v1h-4zM832 726h5v1h-5zM837 727h14v1h-14zM851 726h5v1h-5zM856 725h4v1h-4zM860 724h3v1h-3zM863 723h4v1h-4zM867 722h3v1h-3zM870 721h2v1h-2zM872 720h2v1h-2zM874 719h2v1h-2zM876 718h2v1h-2zM878 717h1v1h-1zM879 716h2v1h-2zM881 715h1v1h-1zM882 714h2v1h-2zM884 713h2v1h-2zM886 712h2v1h-2zM888 711h2v1h-2zM890 710h2v1h-2zM892 709h2v1h-2zM894 708h1v1h-1z" fill="#ffff00"/>
<path d="M3 587h4v1h-4zM7 586h12v1h-12zM19 587h2v1h-2zM21 588h2v1h-2zM23 589h3v1h-3zM26 590h2v1h-2zM28 591h2v1h-2zM30 592h5v1h-5zM35 593h7v1h-7zM42 594h11v1h-11zM53 595h2v1h-2zM55 596h2v1h-2zM57 597h5v1h-5zM62 598h4v1h-4zM66 599h2v1h-2zM68 600h2v1h-2zM70 601h2v1h-2zM72 602h1v1h-1zM73 603h1v1h-1zM74 604h1v1h-1zM75 605h2v1h-2zM77 606h1v1h-1zM78 607h1v1h-1zM79 608h1v1h-1zM80 609h2v1h-2zM82 610h2v1h-2zM84 611h2v1h-2zM86 612h9v1h-9zM95 611h2v1h-2zM97 610h2v1h-2zM99 609h5v1h-5zM104 608h5v1h-5zM109 609h4v1h-4zM113 610h5v1h-5zM118 611h7v1h-7zM125 610h4v1h-4zM129 609h2v1h-2zM131 608h2v1h-2zM133 607h3v1h-3zM136 606h2v1h-2zM138 605h2v1h-2zM140 604h3v1h-3zM143 603h2v1h-2zM145 602h2v1h-2zM147 601h3v1h-3zM150 600h4v1h-4zM154 599h8v1h-8zM162 599h1v2h-1zM163 601h1v2h-1zM164 603h1v3h-1zM165 606h1v2h-1zM166 608h1v2h-1zM167 610h1v3h-1zM168 613h1v2h-1zM169 615h1v4h-1zM170 619h1v4h-1zM171 623h1v4h-1zM172 627h1v5h-1zM173 632h1v4h-1zM174 636h1v4h-1zM175 640h1v4h-1zM176 644h1v5h-1zM177 649h1v4h-1zM178 653h1v4h-1zM179 657h1v5h-1zM180 662h1v4h-1zM181 666h1v4h-1zM182 670h1v4h-1zM183 674h1v3h-1zM184 677h2v1h-2zM186 678h2v1h-2zM188 679h2v1h-2zM190 679h1v2h-1zM191 677h1v2h-1zM192 675h1v2h-1zM193 673h1v2h-1zM194 671h1v2h-1zM195 669h1v2h-1zM196 667h1v2h-1zM197 665h1v2h-1zM198 663h1v2h-1zM199 661h1v2h-1zM200 659h1v2h-1zM201 657h1v2h-1zM202 655h1v2h-1zM203 653h1v2h-1zM204 652h1v1h-1zM205 650h1v2h-1zM206 649h1v1h-1zM207 648h1v1h-1zM208 646h1v2h-1zM209 645h1v1h-1zM210 644h8v1h-8zM218 645h1v1h-1zM219 646h1v1h-1zM220 647h1v1h-1zM221 648h1v1h-1zM222 649h1v1h-1zM223 650h1v1h-1zM224 651h1v1h-1zM225 652h2v1h-2zM227 653h1v1h-1zM228 654h1v1h-1zM229 655h2v1h-2zM231 656h4v1h-4zM235 657h4v1h-4zM239 656h2v1h-2zM241 655h1v1h-1zM242 654h1v1h-1zM243 653h2v1h-2zM245 652h1v1h-1zM246 651h2v1h-2zM248 650h2v1h-2zM250 649h2v1h-2zM252 648h1v1h-1zM253 647h2v1h-2zM255 646h2v1h-2zM257 645h2v1h-2zM259 644h1v1h-1zM260 643h2v1h-2zM262 642h1v1h-1zM263 641h1v1h-1zM264 640h2v1h-2zM266 639h1v1h-1zM267 638h1v1h-1zM268 637h1v1h-1zM269 636h2v1h-2zM271 635h1v1h-1zM272 634h1v1h-1zM273 633h1v1h-1zM274 632h1v1h-1zM275 630h1v2h-1zM276 629h1v1h-1zM277 628h1v1h-1zM278 626h1v2h-1zM279 625h1v1h-1zM280 624h1v1h-1zM281 623h1v1h-1zM282 622h1v1h-1zM283 621h2v1h-2zM285 620h1v1h-1zM286 619h1v1h-1zM287 618h1v1h-1zM288 617h1v1h-1zM289 616h2v1h-2zM291 615h1v1h-1zM292 614h1v1h-1zM293 613h1v1h-1zM294 612h2v1h-2zM296 611h1v1h-1zM297 610h1v1h-1zM298 609h2v1h-2zM300 608h4v1h-4zM304 607h5v1h-5zM309 608h4v1h-4zM313 609h2v1h-2zM315 610h1v2h-1zM316 612h1v2h-1zM317 614h1v2h-1zM318 616h1v1h-1zM319 617h1v2h-1zM320 619h1v2h-1zM321 621h1v2h-1zM322 623h1v2h-1zM323 625h1v2h-1zM324 627h1v2h-1zM325 629h1v2h-1zM326 631h1v2h-1zM327 633h1v2h-1zM328 635h1v2h-1zM329 637h1v2h-1zM330 639h1v2h-1zM331 641h1v2h-1zM332 643h1v1h-1zM333 644h1v2h-1zM334 646h1v2h-1zM335 648h1v1h-1zM336 647h2v1h-2zM338 646h2v1h-2zM340 645h2v1h-2zM342 644h1v1h-1zM343 642h1v2h-1zM344 641h1v1h-1zM345 639h1v2h-1zM346 638h1v1h-1zM347 637h1v1h-1zM348 635h1v2h-1zM349 634h1v1h-1zM350 633h1v1h-1zM351 632h1v1h-1zM352 630h1v2h-1zM353 629h1v1h-1zM354 628h1v1h-1zM355 627h1v1h-1zM356 626h1v1h-1zM357 625h2v1h-2zM359 624h1v1h-1zM360 623h1v1h-1zM361 622h2v1h-2zM363 621h1v1h-1zM364 620h2v1h-2zM366 619h2v1h-2zM368 618h2v1h-2zM370 617h2v1h-2zM372 616h2v1h-2zM374 615h2v1h-2zM376 614h2v1h-2zM378 613h2v1h-2zM380 612h2v1h-2zM382 611h2v1h-2zM384 612h1v1h-1zM385 613h1v1h-1zM386 614h1v1h-1zM387 615h1v1h-1zM388 616h1v1h-1zM389 617h1v1h-1zM390 618h1v1h-1zM391 619h1v1h-1zM392 620h1v2h-1zM393 622h1v1h-1zM394 623h1v1h-1zM395 624h1v2h-1zM396 626h1v1h-1zM397 627h1v1h-1zM398 628h1v1h-1zM399 629h1v1h-1zM400 630h2v1h-2zM402 631h1v1h-1zM403 632h1v1h-1zM404 633h2v1h-2zM406 632h2v1h-2zM408 631h2v1h-2zM410 630h2v1h-2zM412 629h1v1h-1zM413 628h1v1h-1zM414 627h2v1h-2zM416 626h1v1h-1zM417 625h1v1h-1zM418 624h1v1h-1zM419 623h1v1h-1zM420 622h1v1h-1zM421 621h1v1h-1zM422 620h1v1h-1zM423 619h1v1h-1zM424 618h1v1h-1zM425 617h1v1h-1zM426 616h2v1h-2zM428 615h2v1h-2zM430 614h2v1h-2zM432 613h1v1h-1zM433 612h2v1h-2zM435 611h1v1h-1zM436 610h1v1h-1zM437 609h2v1h-2zM439 608h2v1h-2zM441 609h2v1h-2zM443 610h2v1h-2zM445 611h2v1h-2zM447 612h1v2h-1zM448 614h1v2h-1zM449 616h1v2h-1zM450 618h1v1h-1zM451 619h1v2h-1zM452 621h1v2h-1zM453 623h1v3h-1zM454 626h1v5h-1zM455 631h1v5h-1zM456 636h1v5h-1zM457 641h1v5h-1zM458 646h1v5h-1zM459 651h1v5h-1zM460 656h1v5h-1zM461 661h1v6h-1zM462 667h1v5h-1zM463 672h1v6h-1zM464 678h1v5h-1zM465 683h1v6h-1zM466 689h1v4h-1zM467 693h1v3h-1zM468 696h1v3h-1zM469 699h1v4h-1zM470 703h1v3h-1zM471 706h1v3h-1zM472 709h1v3h-1zM473 712h1v2h-1zM474 713h3v1h-3zM477 714h4v1h-4zM481 712h1v2h-1zM482 711h1v1h-1zM483 709h1v2h-1zM484 707h1v2h-1zM485 706h1v1h-1zM486 704h1v2h-1zM487 703h1v1h-1zM488 701h1v2h-1zM489 700h1v1h-1zM490 698h1v2h-1zM491 697h1v1h-1zM492 696h1v1h-1zM493 694h1v2h-1zM494 693h1v1h-1zM495 692h1v1h-1zM496 691h1v1h-1zM497 690h1v1h-1zM498 689h1v1h-1zM499 688h1v1h-1zM500 687h1v1h-1zM501 686h4v1h-4zM505 685h5v1h-5zM510 686h4v1h-4zM514 687h3v1h-3zM517 686h4v1h-4zM521 685h2v1h-2zM523 683h1v2h-1zM524 682h1v1h-1zM525 680h1v2h-1zM526 678h1v2h-1zM527 677h1v1h-1zM528 675h1v2h-1zM529 673h1v2h-1zM530 671h1v2h-1zM531 669h1v2h-1zM532 666h1v3h-1zM533 664h1v2h-1zM534 662h1v2h-1zM535 660h1v2h-1zM536 657h1v3h-1zM537 655h1v2h-1zM538 653h1v2h-1zM539 651h1v2h-1zM540 649h1v2h-1zM541 647h1v2h-1zM542 645h1v2h-1zM543 643h1v2h-1zM544 641h1v2h-1zM545 639h1v2h-1zM546 637h1v2h-1zM547 635h1v2h-1zM548 633h1v2h-1zM549 632h1v1h-1zM550 631h1v1h-1zM551 630h1v1h-1zM552 628h1v2h-1zM553 627h1v1h-1zM554 626h1v1h-1zM555 625h1v1h-1zM556 624h1v1h-1zM557 623h1v1h-1zM558 622h1v1h-1zM559 621h2v1h-2zM561 620h1v1h-1zM562 619h1v1h-1zM563 618h1v1h-1zM564 617h2v1h-2zM566 616h1v1h-1zM567 615h1v1h-1zM568 614h2v1h-2zM570 613h1v1h-1zM571 612h1v1h-1zM572 611h1v1h-1zM573 610h1v1h-1zM574 609h1v1h-1zM575 608h1v1h-1zM576 607h1v1h-1zM577 606h1v1h-1zM578 605h2v1h-2zM580 604h1v1h-1zM581 603h1v1h-1zM582 602h2v1h-2zM584 601h2v1h-2zM586 600h2v1h-2zM588 599h2v1h-2zM590 598h3v1h-3zM593 599h4v1h-4zM597 600h2v1h-2zM599 601h1v1h-1zM600 602h1v1h-1zM601 603h1v1h-1zM602 604h1v1h-1zM603 605h1v1h-1zM604 606h1v1h-1zM605 607h1v1h-1zM606 608h1v1h-1zM607 609h1v1h-1zM608 610h1v1h-1zM609 611h1v1h-1zM610 612h1v1h-1zM611 613h1v1h-1zM612 614h1v1h-1zM613 615h2v1h-2zM615 616h2v1h-2zM617 617h2v1h-2zM619 618h2v1h-2zM621 617h4v1h-4zM625 616h2v1h-2zM627 615h2v1h-2zM629 614h1v1h-1zM630 613h2v1h-2zM632 612h2v1h-2zM634 611h2v1h-2zM636 610h2v1h-2zM638 609h5v1h-5zM643 610h5v1h-5zM648 611h4v1h-4zM652 612h2v1h-2zM654 613h1v1h-1zM655 614h1v1h-1zM656 615h1v1h-1zM657 616h1v1h-1zM658 617h1v1h-1zM659 618h1v1h-1zM660 619h1v2h-1zM661 621h1v3h-1zM662 624h1v3h-1zM663 627h1v3h-1zM664 630h1v2h-1zM665 632h1v3h-1zM666 635h1v3h-1zM667 638h1v3h-1zM668 641h1v3h-1zM669 644h1v3h-1zM670 647h1v3h-1zM671 650h1v2h-1zM672 652h1v3h-1zM673 655h1v3h-1zM674 658h1v3h-1zM675 661h1v2h-1zM676 663h1v2h-1zM677 665h1v2h-1zM678 667h1v2h-1zM679 669h1v2h-1zM680 671h1v2h-1zM681 673h1v2h-1zM682 675h1v1h-1zM683 676h1v2h-1zM684 678h1v1h-1zM685 679h1v1h-1zM686 680h1v2h-1zM687 682h1v1h-1zM688 683h4v1h-4zM692 684h7v1h-7zM699 683h7v1h-7zM706 682h4v1h-4zM710 683h1v2h-1zM711 685h1v1h-1zM712 686h1v2h-1zM713 688h1v1h-1zM714 689h1v2h-1zM715 691h1v1h-1zM716 692h1v2h-1zM717 694h1v2h-1zM718 696h1v2h-1zM719 698h1v1h-1zM720 699h1v2h-1zM721 701h1v2h-1zM722 703h1v2h-1zM723 705h1v2h-1zM724 707h1v2h-1zM725 709h1v2h-1zM726 711h1v2h-1zM727 713h1v2h-1zM728 715h1v2h-1zM729 717h1v1h-1zM730 718h1v2h-1zM731 720h1v2h-1zM732 722h1v2h-1zM733 724h1v1h-1zM734 725h1v2h-1zM735 727h1v2h-1zM736 729h1v1h-1zM737 730h1v1h-1zM738 731h1v2h-1zM739 733h1v1h-1zM740 734h1v1h-1zM741 735h1v2h-1zM742 737h1v1h-1zM743 738h4v1h-4zM747 739h5v1h-5zM752 738h2v1h-2zM754 737h2v1h-2zM756 736h2v1h-2zM758 735h1v1h-1zM759 734h1v1h-1zM760 733h1v1h-1zM761 732h1v1h-1zM762 731h1v1h-1zM763 730h1v1h-1zM764 729h1v1h-1zM765 728h1v1h-1zM766 727h1v1h-1zM767 726h1v1h-1zM768 725h1v1h-1zM769 724h1v1h-1zM770 723h1v1h-1zM771 722h1v1h-1zM772 721h1v1h-1zM773 720h1v1h-1zM774 719h1v1h-1zM775 718h1v1h-1zM776 717h1v1h-1zM777 716h1v1h-1zM778 715h1v1h-1zM779 714h2v1h-2zM781 713h1v1h-1zM782 712h1v1h-1zM783 711h2v1h-2zM785 710h2v1h-2zM787 709h2v1h-2zM789 708h2v1h-2zM791 707h2v1h-2zM793 706h1v1h-1zM794 705h1v1h-1zM795 704h1v1h-1zM796 703h1v1h-1zM797 702h1v1h-1zM798 701h1v1h-1zM799 700h1v1h-1zM800 699h1v1h-1zM801 698h1v1h-1zM802 697h1v1h-1zM803 696h1v1h-1zM804 695h1v1h-1zM805 694h2v1h-2zM807 693h2v1h-2zM809 692h2v1h-2zM811 691h2v1h-2zM813 692h1v1h-1zM814 693h1v1h-1zM815 694h1v2h-1zM816 696h1v1h-1zM817 697h1v1h-1zM818 698h1v1h-1zM819 699h1v2h-1zM820 701h1v2h-1zM821 703h1v2h-1zM822 705h1v2h-1zM823 707h1v2h-1zM824 709h1v2h-1zM825 711h1v2h-1zM826 713h1v3h-1zM827 716h1v2h-1zM828 718h1v2h-1zM829 720h1v2h-1zM830 722h1v2h-1zM831 724h1v2h-1zM832 726h1v2h-1zM833 728h2v1h-2zM835 729h4v1h-4zM839 730h2v1h-2zM841 728h1v2h-1zM842 727h1v1h-1zM843 725h1v2h-1zM844 723h1v2h-1zM845 722h1v1h-1zM846 720h1v2h-1zM847 719h1v1h-1zM848 717h1v2h-1zM849 716h1v1h-1zM850 714h1v2h-1zM851 712h1v2h-1zM852 711h1v1h-1zM853 709h1v2h-1zM854 708h1v1h-1zM855 706h1v2h-1zM856 705h1v1h-1zM857 703h1v2h-1zM858 702h1v1h-1zM859 701h1v1h-1zM860 699h1v2h-1zM861 698h1v1h-1zM862 697h1v1h-1zM863 695h1v2h-1zM864 694h1v1h-1zM865 693h1v1h-1zM866 691h1v2h-1zM867 690h1v1h-1zM868 689h1v1h-1zM869 688h1v1h-1zM870 687h1v1h-1zM871 686h1v1h-1zM872 685h1v1h-1zM873 684h1v1h-1zM874 683h1v1h-1zM875 682h1v1h-1zM876 680h1v2h-1zM877 678h1v2h-1zM878 677h1v1h-1zM879 675h1v2h-1zM880 673h1v2h-1zM881 672h1v1h-1zM882 671h1v1h-1zM883 670h1v1h-1zM884 669h1v1h-1zM885 668h1v1h-1zM886 667h1v1h-1zM887 666h1v1h-1zM888 665h4v1h-4zM892 664h3v1h-3z" fill="#ffffff"/>
<rect x="827" y="20" width="3" height="1" fill="#c0c0c0"/>
<rect x="826" y="21" width="1" height="3" fill="#c0c0c0"/>
<rect x="827" y="22" width="3" height="1" fill="#c0c0c0"/>
<rect x="830" y="23" width="3" height="1" fill="#c0c0c0"/>
<rect x="833" y="24" width="3" height="1" fill="#c0c0c0"/>
<rect x="836" y="25" width="2" height="1" fill="#c0c0c0"/>
<rect x="827" y="24" width="1" height="1" fill="#c0c0c0"/>
<rect x="828" y="25" width="1" height="1" fill="#c0c0c0"/>
<rect x="252" y="394" width="1" height="3" fill="#c0c0c0"/>
<rect x="253" y="395" width="11" height="1" fill="#c0c0c0"/>
<rect x="253" y="394" width="2" height="1" fill="#c0c0c0"/>
<rect x="255" y="393" width="3" height="1" fill="#c0c0c0"/>
<rect x="253" y="396" width="1" height="1" fill="#c0c0c0"/>
<rect x="254" y="397" width="1" height="1" fill="#c0c0c0"/>
<rect x="255" y="398" width="1" height="1" fill="#c0c0c0"/>
</svg>

<!-- price annotations -->
<div class="t g" style="left:841px;top:20px">7.78</div>
<div class="t g" style="left:266px;top:390px">2.80</div>

<!-- title -->
<div class="t g" style="left:3px;top:3px"><span class="s" style="left:0">珈伟新能</span><span class="s" style="left:49.5px">(</span><span class="s" style="left:54px">日线</span><span class="s" style="left:77.5px">.</span><span class="s" style="left:80px">前复权</span><span class="s" style="left:116px">)</span></div>
<svg class="ic" style="left:128px;top:4px" width="12" height="12" viewBox="0 0 12 12"><circle cx="6" cy="6" r="6" fill="#808080"/><path d="M3 4.8 L6 7.8 L9 4.8" fill="none" stroke="#181818" stroke-width="1.1"/></svg>
<svg class="ic" style="left:886px;top:4px" width="33" height="14" viewBox="0 0 33 14">
<path d="M6.5 1.5 L11.5 6.5 L6.5 11.5 L1.5 6.5 Z" fill="none" stroke="#707070" stroke-width="1"/>
<rect x="19.5" y="1.5" width="11" height="10" rx="2" ry="2" fill="none" stroke="#707070" stroke-width="1.2"/>
<rect x="26" y="3" width="3" height="7" fill="#707070"/>
</svg>

<!-- tags -->
<div class="tag" style="left:661px;background:#008000">减</div>
<div class="tag" style="left:729px;background:#004080">财</div>
<div class="tag" style="left:805px;background:#a05000">榜</div>

<!-- volume header -->
<svg class="ic" style="left:2px;top:417px" width="12" height="12" viewBox="0 0 12 12"><circle cx="6" cy="6" r="6" fill="#808080"/><path d="M3 4.8 L6 7.8 L9 4.8" fill="none" stroke="#181818" stroke-width="1.1"/></svg>
<div class="t g" style="left:18px;top:416px">VOL-TDX(5,10)</div>
<div class="t w lb" style="left:105px;top:416px">VVOL:</div><div class="t w nm" style="left:141px;top:416px">639097.75</div>
<div class="t y lb" style="left:210px;top:416px">VOLUME:</div><div class="t y nm" style="left:265px;top:416px">639097.75</div>
<div class="t y lb" style="left:329px;top:416px">MA5:</div><div class="t y nm" style="left:359px;top:416px">452734.03</div>
<div class="t m lb" style="left:422px;top:416px">MA10:</div><div class="t m nm" style="left:458px;top:416px">557572.50</div>

<!-- indicator header -->
<svg class="ic" style="left:2px;top:569px" width="12" height="12" viewBox="0 0 12 12"><circle cx="6" cy="6" r="6" fill="#808080"/><path d="M3 4.8 L6 7.8 L9 4.8" fill="none" stroke="#181818" stroke-width="1.1"/></svg>
<div class="t g" style="left:18px;top:568px">U线买入</div>
<div class="t w lb" style="left:68px;top:568px">圣灵石A:</div><div class="t w n2" style="left:117.6px;top:568px">49<i>.</i>68</div>
<div class="t y lb" style="left:153px;top:568px">圣灵石B:</div><div class="t y n2" style="left:203.6px;top:568px">38<i>.</i>09</div>
</body>
</html>
